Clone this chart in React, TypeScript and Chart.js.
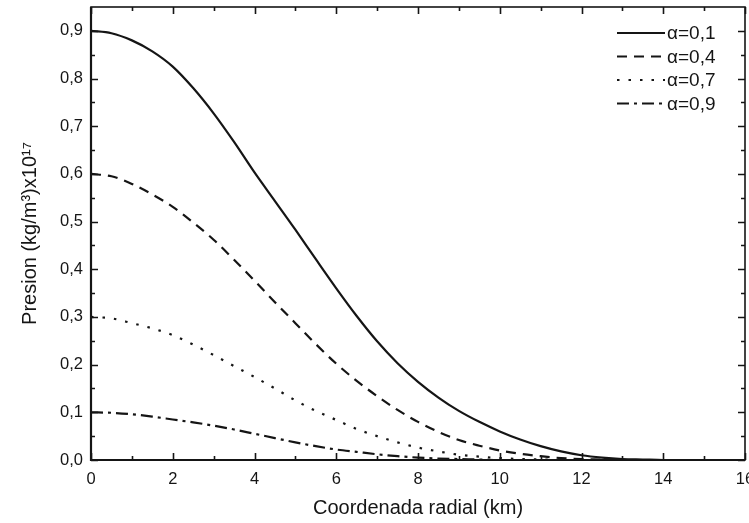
import { useEffect, useRef } from 'react';
import { Chart, registerables } from 'chart.js';

Chart.register(...registerables);

// ---- data ----
const radiusKm = [0, 0.5, 1, 1.5, 2, 2.5, 3, 3.5, 4, 4.5, 5, 5.5, 6, 6.5, 7, 7.5, 8, 8.5, 9, 9.5, 10, 10.5, 11, 11.5, 12, 12.5, 13, 13.5, 14, 14.5, 15, 15.5, 16];
const alpha01 = [0.9, 0.895, 0.88, 0.857, 0.825, 0.78, 0.727, 0.667, 0.603, 0.543, 0.483, 0.421, 0.36, 0.302, 0.249, 0.203, 0.164, 0.131, 0.103, 0.08, 0.06, 0.043, 0.029, 0.018, 0.01, 0.005, 0.002, 0.001, 0, 0, 0, 0, 0];
const alpha04 = [0.6, 0.595, 0.579, 0.557, 0.531, 0.498, 0.462, 0.42, 0.376, 0.331, 0.287, 0.243, 0.202, 0.166, 0.134, 0.105, 0.08, 0.059, 0.042, 0.03, 0.02, 0.013, 0.008, 0.004, 0.002, 0.001, 0, 0, 0, 0, 0, 0, 0];
const alpha07 = [0.3, 0.297, 0.287, 0.276, 0.262, 0.242, 0.22, 0.197, 0.174, 0.15, 0.125, 0.103, 0.084, 0.065, 0.05, 0.037, 0.026, 0.018, 0.011, 0.007, 0.004, 0.002, 0.001, 0, 0, 0, 0, 0, 0, 0, 0, 0, 0];
const alpha09 = [0.1, 0.099, 0.096, 0.091, 0.085, 0.079, 0.072, 0.064, 0.055, 0.046, 0.037, 0.029, 0.022, 0.017, 0.012, 0.008, 0.005, 0.003, 0.002, 0.001, 0, 0, 0, 0, 0, 0, 0, 0, 0, 0, 0, 0, 0];
const seriesLabels = ['α=0,1', 'α=0,4', 'α=0,7', 'α=0,9'];

const xMajorTicks = [0, 2, 4, 6, 8, 10, 12, 14, 16];
const xMinorTicks = [1, 3, 5, 7, 9, 11, 13, 15];
const yMajorTicks = [0, 0.1, 0.2, 0.3, 0.4, 0.5, 0.6, 0.7, 0.8, 0.9];
const yMinorTicks = [0.05, 0.15, 0.25, 0.35, 0.45, 0.55, 0.65, 0.75, 0.85];

const xTitle = 'Coordenada radial (km)';
const yTitle = 'Presion (kg/m³)x10¹⁷';

const INK = '#151515';
const FONT = "'Liberation Sans', Arial, sans-serif";

const dashes = [[], [10, 7], [2.5, 9], [12, 5, 3, 5]];

const frameTicksPlugin = {
  id: 'frameTicks',
  afterDraw(chart: any) {
    const { ctx, chartArea } = chart;
    const { left, right, top, bottom } = chartArea;
    const xs = chart.scales.x;
    const ys = chart.scales.y;
    ctx.save();
    ctx.strokeStyle = INK;
    ctx.lineWidth = 1.6;
    ctx.setLineDash([]);
    const major = 7;
    const minor = 4;
    const drawX = (vals: number[], len: number) => {
      vals.forEach((v) => {
        const px = Math.round(xs.getPixelForValue(v)) + 0.5;
        ctx.beginPath();
        ctx.moveTo(px, bottom);
        ctx.lineTo(px, bottom - len);
        ctx.moveTo(px, top);
        ctx.lineTo(px, top + len);
        ctx.stroke();
      });
    };
    const drawY = (vals: number[], len: number) => {
      vals.forEach((v) => {
        const py = Math.round(ys.getPixelForValue(v)) + 0.5;
        ctx.beginPath();
        ctx.moveTo(left, py);
        ctx.lineTo(left + len, py);
        ctx.moveTo(right, py);
        ctx.lineTo(right - len, py);
        ctx.stroke();
      });
    };
    drawX(xMajorTicks, major);
    drawX(xMinorTicks, minor);
    drawY(yMajorTicks, major);
    drawY(yMinorTicks, minor);
    ctx.lineWidth = 1.6;
    ctx.strokeRect(left, top, right - left, bottom - top);
    ctx.lineWidth = 2.2;
    ctx.beginPath();
    ctx.moveTo(left, top);
    ctx.lineTo(left, bottom);
    ctx.lineTo(right, bottom);
    ctx.stroke();
    ctx.restore();
  },
};

const customLegendPlugin = {
  id: 'customLegend',
  afterDraw(chart: any) {
    const { ctx, chartArea } = chart;
    const { right, top } = chartArea;
    ctx.save();
    ctx.font = `19px ${FONT}`;
    ctx.fillStyle = INK;
    ctx.textBaseline = 'middle';
    ctx.textAlign = 'left';
    chart.data.datasets.forEach((ds: any, i: number) => {
      const y = top + 26 + i * 23.5;
      ctx.strokeStyle = INK;
      ctx.lineWidth = 2;
      ctx.setLineDash(ds.borderDash || []);
      ctx.beginPath();
      ctx.moveTo(right - 128, y);
      ctx.lineTo(right - 80, y);
      ctx.stroke();
      ctx.setLineDash([]);
      ctx.fillText(ds.label, right - 78, y + 1);
    });
    ctx.restore();
  },
};

const zeroPadding = (scale: any) => {
  scale.paddingLeft = 0;
  scale.paddingRight = 0;
  scale.paddingTop = 0;
  scale.paddingBottom = 0;
};

export default function App() {
  const ref = useRef<HTMLCanvasElement | null>(null);

  useEffect(() => {
    if (!ref.current) return;
    const seriesValues = [alpha01, alpha04, alpha07, alpha09];
    const chart = new Chart(ref.current, {
      type: 'line',
      data: {
        datasets: seriesValues.map((vals, i) => ({
          label: seriesLabels[i],
          data: radiusKm.map((r, j) => ({ x: r, y: vals[j] })),
          borderColor: INK,
          borderWidth: 2.2,
          borderDash: dashes[i],
          pointRadius: 0,
          fill: false,
          cubicInterpolationMode: 'monotone' as const,
        })),
      },
      options: {
        animation: false,
        responsive: false,
        devicePixelRatio: 1,
        layout: { padding: { top: 7, right: 4, left: 0, bottom: 0 }, autoPadding: false } as any,
        plugins: {
          legend: { display: false },
          tooltip: { enabled: false },
        },
        scales: {
          x: {
            type: 'linear',
            min: 0,
            max: 16,
            grid: { display: false, drawTicks: false },
            border: { display: false },
            afterBuildTicks: (scale: any) => {
              scale.ticks = xMajorTicks.map((v) => ({ value: v }));
            },
            afterFit: (scale: any) => {
              scale.height = 63;
              zeroPadding(scale);
            },
            ticks: {
              autoSkip: false,
              maxRotation: 0,
              padding: 10,
              color: INK,
              font: { family: FONT, size: 16.5 },
              callback: (v: any) => String(v),
            },
            title: {
              display: true,
              text: xTitle,
              color: INK,
              font: { family: FONT, size: 20 },
              padding: { top: 0, bottom: 3 },
            },
          },
          y: {
            type: 'linear',
            min: 0,
            max: 0.95,
            grid: { display: false, drawTicks: false },
            border: { display: false },
            afterBuildTicks: (scale: any) => {
              scale.ticks = yMajorTicks.map((v) => ({ value: v }));
            },
            afterFit: (scale: any) => {
              scale.width = 91;
              zeroPadding(scale);
            },
            ticks: {
              autoSkip: false,
              padding: 8,
              color: INK,
              font: { family: FONT, size: 16.5 },
              callback: (v: any) => Number(v).toFixed(1).replace('.', ','),
            },
            title: {
              display: true,
              text: yTitle,
              color: INK,
              font: { family: FONT, size: 20 },
              padding: { top: 18, bottom: 0 },
            },
          },
        },
      },
      plugins: [frameTicksPlugin, customLegendPlugin],
    });
    return () => chart.destroy();
  }, []);

  return (
    <div style={{ position: 'fixed', left: 0, top: 0, width: 749, height: 523, background: '#fff' }}>
      <canvas ref={ref} width={749} height={523} style={{ display: 'block' }} />
    </div>
  );
}
